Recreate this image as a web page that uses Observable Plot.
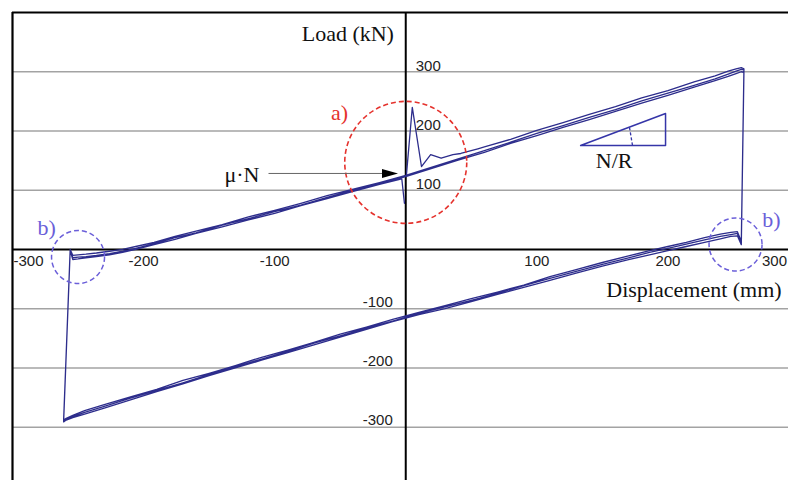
<!DOCTYPE html>
<html>
<head>
<meta charset="utf-8">
<script src="https://cdn.jsdelivr.net/npm/d3@7"></script>
<script src="https://cdn.jsdelivr.net/npm/@observablehq/plot@0.6"></script>
<style>
  html, body { margin: 0; padding: 0; background: #fff; }
  #chart { width: 788px; height: 480px; }
</style>
</head>
<body>
<div id="chart"></div>
<script>
// ---------- data ----------
// initial loading with static-friction spike
const initDisp = [0.5, 5, 12, 19, 27, 36, 42, 47, 55];
const initLoad = [125, 240, 140, 160, 154, 160, 162, 165, 170];

// first upper branch (right half)
const upper1Disp = [60, 80, 100, 120, 140, 160, 180, 200, 220, 236, 246, 252, 256, 258];
const upper1Load = [173, 186, 201, 214, 228, 241, 256, 268, 283, 293, 301, 305, 307, 305];

// upper branches (moving right)
const upperDisp = [-256, -254, -250, -244, -236, -226, -216, -206, -192, -176, -160, -140, -120, -100, -80, -60, -40, -20, 0, 20, 40, 60, 80, 100, 120, 140, 160, 180, 200, 220, 236, 246, 252, 256, 258];
const upperLoad2 = [-1, -14, -13, -12, -10, -7, -3, 2, 10, 20, 28, 41, 52, 64, 75, 88, 100, 111, 123, 137, 151, 164, 179, 192, 206, 219, 233, 247, 260, 274, 285, 292, 297, 300, 299];
const upperLoad3 = [0, -10, -9, -8, -6, -3, 0, 5, 12, 22, 31, 42, 55, 66, 78, 91, 102, 113, 125, 139, 153, 167, 181, 196, 209, 223, 236, 251, 264, 277, 288, 296, 301, 304, 303];
const upperLoad4 = [-2, -17, -16, -14, -12, -9, -5, 0, 8, 17, 27, 38, 50, 61, 74, 86, 98, 110];
const endDisp = [-3, -1];
const endLoad = [119, 78];

// lower branches (moving left)
const lowerDisp = [256, 253, 248, 240, 228, 214, 200, 186, 170, 150, 130, 110, 90, 70, 50, 30, 10, -10, -30, -50, -70, -90, -110, -130, -150, -170, -190, -210, -230, -245, -254, -259, -261];
const lowerLoad1 = [14, 30, 29, 26, 20, 12, 5, -2, -11, -22, -34, -46, -60, -72, -83, -95, -106, -118, -131, -143, -157, -170, -182, -196, -209, -221, -236, -249, -262, -272, -280, -285, -288];
const lowerLoad2 = [10, 27, 25, 22, 16, 9, 2, -5, -14, -25, -37, -49, -61, -74, -86, -97, -108, -121, -133, -146, -158, -172, -185, -198, -211, -225, -238, -251, -265, -275, -282, -286, -289];
const lowerLoad3 = [8, 23, 22, 18, 12, 5, -2, -9, -17, -28, -40, -52, -64, -76, -88, -100, -110, -122, -135, -148, -161, -174, -187, -200, -213, -227, -240, -254, -268, -278, -284, -288, -291];

// axes
const gridLoads = [-300, -200, -100, 100, 200, 300];
const xTickVals = [-200, -100, 100, 200];
const xTickText = ["-200", "-100", "100", "200"];
const yPosVals = [100, 200, 300];
const yPosText = ["100", "200", "300"];
const yNegVals = [-100, -200, -300];
const yNegText = ["-100", "-200", "-300"];

// ---------- build table ----------
const loop = [];
function add(xs, ys) { ys.forEach((y, i) => loop.push({disp: xs[i], load: y})); }
add(initDisp, initLoad);
add(upper1Disp, upper1Load);
add(lowerDisp, lowerLoad1);
add(upperDisp, upperLoad2);
add(lowerDisp, lowerLoad2);
add(upperDisp, upperLoad3);
add(lowerDisp, lowerLoad3);
add(upperDisp, upperLoad4);
add(endDisp, endLoad);

const serif = "Liberation Serif, Times New Roman, serif";
const sans = "Liberation Sans, Arial, sans-serif";
const lineBlue = "#2d2d8c";
const purple = "#6b5fd9";
const red = "#e5322d";

const arrowHead = {
  draw(ctx) { ctx.moveTo(8, 0); ctx.lineTo(-8, -4.5); ctx.lineTo(-8, 4.5); ctx.closePath(); }
};

const chart = Plot.plot({
  width: 788,
  height: 480,
  marginLeft: 12,
  marginRight: 0,
  marginTop: 12,
  marginBottom: 0,
  x: {domain: [-300, 292], axis: null},
  y: {domain: [-390, 400], axis: null},
  style: {background: "#fff", overflow: "hidden"},
  marks: [
    Plot.ruleY(gridLoads, {stroke: "#a3a3a3", strokeWidth: 1.6}),
    Plot.ruleY([0], {stroke: "#000", strokeWidth: 2}),
    Plot.ruleX([0], {stroke: "#000", strokeWidth: 2}),
    Plot.ruleX([-300], {stroke: "#000", strokeWidth: 2.2}),
    Plot.ruleY([400], {stroke: "#000", strokeWidth: 2.2}),
    // tick labels
    Plot.text(xTickVals, {x: d => d, y: 0, text: (d, i) => xTickText[i], dy: 12, fontSize: 15, fontFamily: sans, fill: "#222"}),
    Plot.text([-300], {x: d => d, y: 0, text: ["-300"], textAnchor: "start", dx: 1, dy: 12, fontSize: 15, fontFamily: sans, fill: "#222"}),
    Plot.text([300], {x: d => d, y: 0, text: ["300"], textAnchor: "end", dx: -12, dy: 12, fontSize: 15, fontFamily: sans, fill: "#222"}),
    Plot.text(yPosVals, {x: 0, y: d => d, text: (d, i) => yPosText[i], textAnchor: "start", dx: 10, dy: -6, fontSize: 15, fontFamily: sans, fill: "#222"}),
    Plot.text(yNegVals, {x: 0, y: d => d, text: (d, i) => yNegText[i], textAnchor: "end", dx: -13, dy: -7, fontSize: 15, fontFamily: sans, fill: "#222"}),
    // axis titles
    Plot.text(["Load (kN)"], {x: -9, y: 364, text: d => d, textAnchor: "end", fontSize: 22, fontFamily: serif, fill: "#111"}),
    Plot.text(["Displacement (mm)"], {x: 153, y: -69, text: d => d, textAnchor: "start", fontSize: 22, fontFamily: serif, fill: "#111"}),
    // hysteresis loop
    Plot.line(loop, {x: "disp", y: "load", stroke: lineBlue, strokeWidth: 1.3, curve: "linear"}),
    // annotations
    Plot.dot([{x: 0, y: 147}], {x: "x", y: "y", r: 61, fill: "none", stroke: red, strokeWidth: 1.6, strokeDasharray: "5,3"}),
    Plot.text(["a)"], {x: -50.5, y: 231, text: d => d, fontSize: 22, fontFamily: serif, fill: red}),
    Plot.dot([{x: -250, y: -12.7}, {x: 251.6, y: 8.4}], {x: "x", y: "y", r: 26.5, fill: "none", stroke: purple, strokeWidth: 1.5, strokeDasharray: "5,3"}),
    Plot.text([{x: -274, y: 35.5}, {x: 279, y: 50.6}], {x: "x", y: "y", text: () => "b)", fontSize: 22, fontFamily: serif, fill: purple}),
    Plot.text(["μ·N"], {x: -125, y: 125, text: d => d, fontSize: 22, fontFamily: serif, fill: "#111"}),
    Plot.link([{x1: -104.7, x2: -14, y: 128.3}], {x1: "x1", x2: "x2", y1: "y", y2: "y", stroke: "#666", strokeWidth: 1}),
    Plot.dot([{x: -12, y: 128.3}], {x: "x", y: "y", symbol: arrowHead, fill: "#000", stroke: "none"}),
    // N/R slope triangle
    Plot.line([{x: 133.4, y: 175.6}, {x: 198.2, y: 175.6}, {x: 198.2, y: 229.6}, {x: 133.4, y: 175.6}], {x: "x", y: "y", stroke: "#3535a8", strokeWidth: 1.5}),
    Plot.link([{x1: 170.7, y1: 205.9, x2: 173, y2: 175.6}], {x1: "x1", y1: "y1", x2: "x2", y2: "y2", stroke: "#3535a8", strokeWidth: 1.3, strokeDasharray: "3,2"}),
    Plot.text(["N/R"], {x: 159, y: 150, text: d => d, fontSize: 22, fontFamily: serif, fill: "#111"})
  ]
});
document.getElementById("chart").appendChild(chart);
</script>
</body>
</html>
